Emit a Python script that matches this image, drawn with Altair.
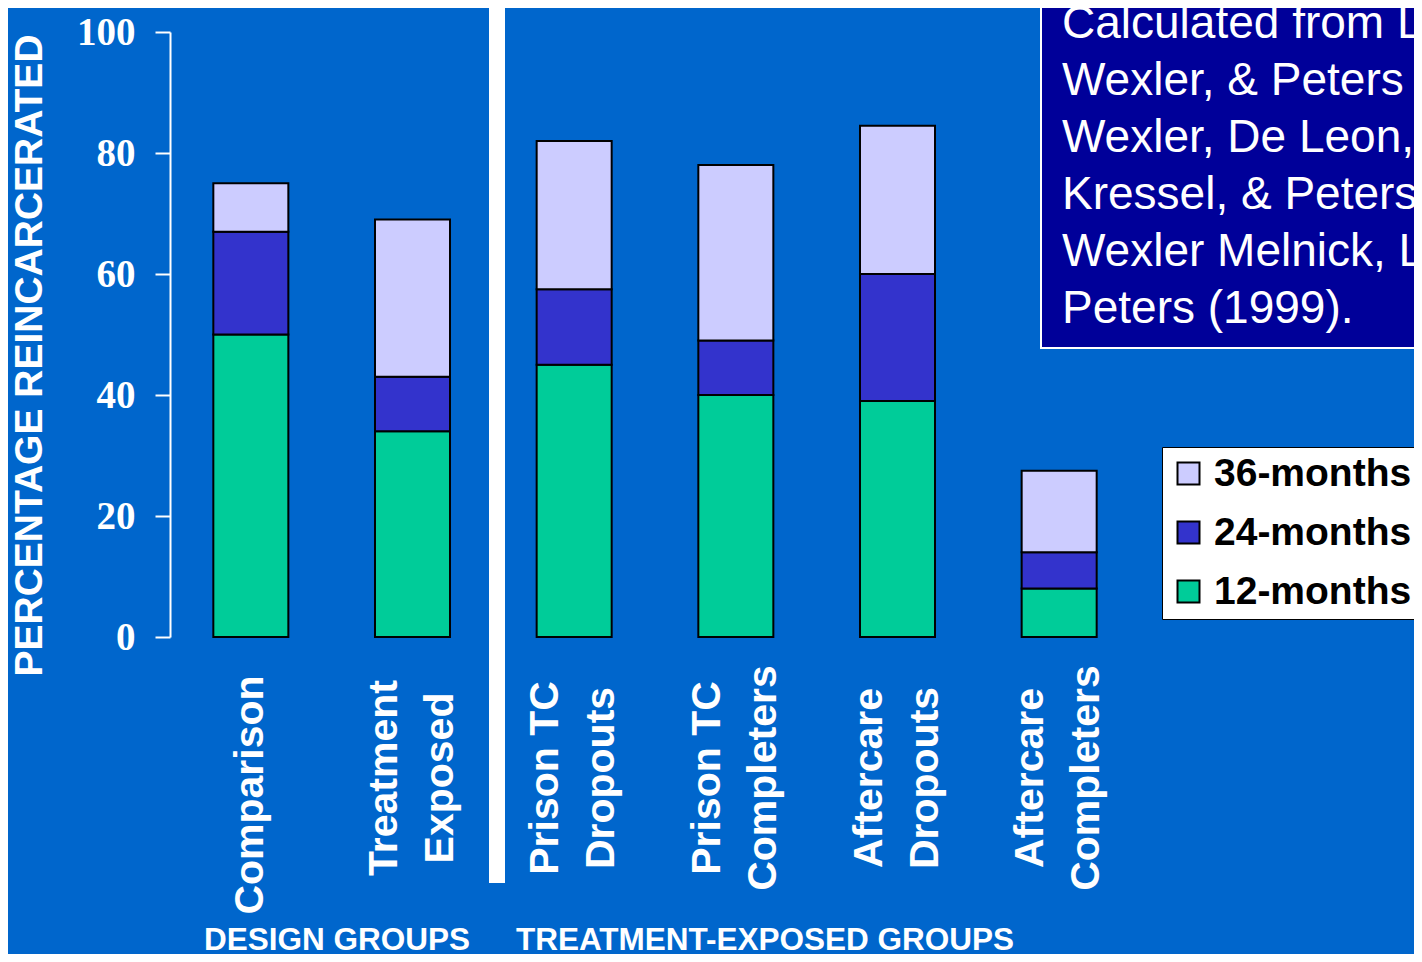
import altair as alt
import pandas as pd

# ---- data ----
groups = ["Comparison", "Treatment|Exposed", "Prison TC|Dropouts",
          "Prison TC|Completers", "Aftercare|Dropouts", "Aftercare|Completers"]
rate_12 = [50, 34, 45, 40, 39, 8]          # % reincarcerated by 12 months
rate_24 = [67, 43, 57.5, 49, 60, 14]       # % reincarcerated by 24 months
rate_36 = [75, 69, 82, 78, 84.5, 27.5]     # % reincarcerated by 36 months
periods = ["36-months", "24-months", "12-months"]
period_colors = ["#CCCCFF", "#3333CC", "#00CC99"]
y_ticks = [0, 20, 40, 60, 80, 100]
citation_lines = ["Calculated from L", "Wexler, & Peters", "Wexler, De Leon,",
                  "Kressel, & Peters", "Wexler Melnick, L", "Peters (1999)."]
caption_left = "DESIGN GROUPS"
caption_right = "TREATMENT-EXPOSED GROUPS"

rows = []
for g, a, b, c in zip(groups, rate_12, rate_24, rate_36):
    rows.append({"group": g, "period": "12-months", "bottom": 0, "top": a})
    rows.append({"group": g, "period": "24-months", "bottom": a, "top": b})
    rows.append({"group": g, "period": "36-months", "bottom": b, "top": c})
df = pd.DataFrame(rows)
labels_df = pd.DataFrame({"group": groups})

BG = "#0066CC"
SANS = "Liberation Sans"

x_scale = alt.Scale(domain=groups, paddingInner=0, paddingOuter=0)

x_axis = alt.Axis(
    title=None, labels=False, tickBand="extent", tickSize=15,
    tickWidth=2, tickColor="white", domainColor="white", domainWidth=2,
    grid=False,
)

y_axis = alt.Axis(
    values=y_ticks, title="PERCENTAGE REINCARCERATED", titleColor="white",
    titleFont=SANS, titleFontSize=39, titleFontWeight="bold", titleAngle=270,
    titleX=-141, titleY=323, titleAlign="center", titleBaseline="middle",
    labelFont="Liberation Serif", labelFontSize=39, labelFontWeight="bold",
    labelColor="white", labelPadding=20, labelFlush=False, labelOverlap=False,
    tickSize=15, tickWidth=2, tickColor="white", domainColor="white",
    domainWidth=2, grid=False,
)

legend = alt.Legend(
    title=None, orient="none", legendX=992, legendY=415, fillColor="white",
    strokeColor="black", padding=7, symbolType="square", symbolSize=484,
    symbolStrokeColor="black", symbolStrokeWidth=2, symbolOpacity=1,
    labelFont=SANS, labelFontSize=39, labelFontWeight="bold",
    labelColor="black", labelOffset=6, rowPadding=19, labelLimit=500,
)

bars = alt.Chart(df).mark_bar(
    stroke="black", strokeWidth=2, width=alt.RelativeBandSize(0.464)
).encode(
    x=alt.X("group:N", sort=groups, scale=x_scale, axis=x_axis),
    y=alt.Y("top:Q", scale=alt.Scale(domain=[0, 100], nice=False), axis=y_axis),
    y2="bottom:Q",
    color=alt.Color("period:N", scale=alt.Scale(domain=periods, range=period_colors),
                    legend=legend),
)

label_base = alt.Chart(labels_df).transform_calculate(
    lines="split(datum.group, '|')"
)

label_style = dict(angle=270, align="center", baseline="middle", font=SANS,
                   fontSize=41, fontWeight="bold", color="white", lineHeight=56)

labels_one = label_base.transform_filter(
    "indexof(datum.group, '|') < 0"
).mark_text(dy=0, **label_style).encode(
    x=alt.X("group:N", sort=groups, scale=x_scale, axis=None),
    y=alt.value(763),
    text="lines:N",
)

labels_two = label_base.transform_filter(
    "indexof(datum.group, '|') >= 0"
).mark_text(dy=-28, **label_style).encode(
    x=alt.X("group:N", sort=groups, scale=x_scale, axis=None),
    y=alt.value(746),
    text="lines:N",
)

one = pd.DataFrame({"k": [0]})

separator = alt.Chart(one).mark_rule(color="white", strokeWidth=16).encode(
    x=alt.value(327), y=alt.value(-28), y2=alt.value(851)
)

cite_box = alt.Chart(one).mark_rect(fill="#000099", stroke="white", strokeWidth=2).encode(
    x=alt.value(871), x2=alt.value(1320), y=alt.value(-60), y2=alt.value(316)
)

cite_text = alt.Chart(one).mark_text(
    align="left", baseline="alphabetic", font=SANS, fontSize=46,
    color="white", lineHeight=57
).encode(x=alt.value(892), y=alt.value(6), text=alt.value(citation_lines))

cap1 = alt.Chart(one).mark_text(
    align="center", baseline="middle", font=SANS, fontSize=31.5,
    fontWeight="bold", color="white"
).encode(x=alt.value(167), y=alt.value(909), text=alt.value(caption_left))

cap2 = alt.Chart(one).mark_text(
    align="center", baseline="middle", font=SANS, fontSize=31.5,
    fontWeight="bold", color="white"
).encode(x=alt.value(595), y=alt.value(909), text=alt.value(caption_right))

chart = alt.layer(
    bars, labels_one, labels_two, separator, cite_box, cite_text, cap1, cap2
).properties(
    width=970, height=605,
    padding={"left": 162, "top": 24, "right": 274, "bottom": 317},
    autosize="none", background=BG,
).configure_view(stroke=None)

chart.save("out.html", embed_options={"renderer": "svg", "actions": False})
